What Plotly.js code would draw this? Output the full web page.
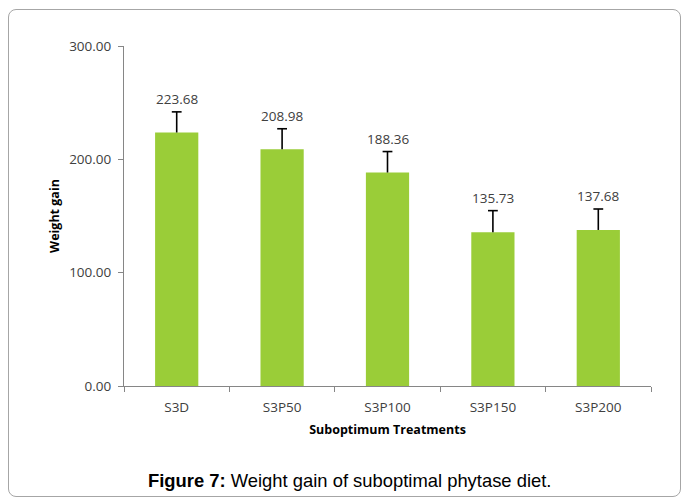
<!DOCTYPE html>
<html>
<head>
<meta charset="utf-8">
<script src="https://cdn.plot.ly/plotly-3.0.1.min.js"></script>
<style>
  html, body { margin: 0; padding: 0; background: #fff; }
  #wrap { position: relative; width: 683px; height: 498px; }
  #chart { position: absolute; left: 0; top: 0; width: 683px; height: 498px; }
  #frame { position: absolute; left: 8px; top: 9px; width: 671px; height: 486px;
           border: 1px solid #a6a6a6; border-radius: 8px; pointer-events: none; }
</style>
</head>
<body>
<div id="wrap">
  <div id="chart"></div>
  <div id="frame"></div>
</div>
<script>
const categories = ["S3D", "S3P50", "S3P100", "S3P150", "S3P200"];
const weightGain = [223.68, 208.98, 188.36, 135.73, 137.68];
const errorPlus = [18.2, 18.0, 18.5, 19.0, 18.5];
const valueLabels = ["223.68", "208.98", "188.36", "135.73", "137.68"];
const yTickVals = [0, 100, 200, 300];
const yTickText = ["0.00", "100.00", "200.00", "300.00"];

const labelFont = { family: "Open Sans, Noto Sans, sans-serif", size: 13.5, color: "#404040" };
const errorTops = weightGain.map((v, i) => v + errorPlus[i]);

const barTrace = {
  type: "bar",
  x: categories,
  y: weightGain,
  marker: { color: "#9ACD38" },
  error_y: {
    type: "data",
    symmetric: false,
    array: errorPlus,
    arrayminus: weightGain.map(() => 0),
    color: "#000000",
    thickness: 1.6,
    width: 0
  },
  hoverinfo: "skip"
};

// caps on the upper end of the (plus-only) error bars
const capTrace = {
  type: "scatter",
  mode: "markers",
  x: categories,
  y: errorTops,
  marker: {
    symbol: "line-ew-open",
    size: 7,
    color: "#000000",
    line: { color: "#000000", width: 1.6 }
  },
  hoverinfo: "skip"
};

const annotations = categories.map((c, i) => ({
  x: c,
  y: errorTops[i],
  xref: "x",
  yref: "y",
  text: valueLabels[i],
  showarrow: false,
  yanchor: "bottom",
  yshift: 2,
  font: labelFont
}));

annotations.push({
  xref: "paper", yref: "paper",
  x: 0.428, y: -0.2765,
  xanchor: "center", yanchor: "middle",
  text: "<b>Figure 7:</b> Weight gain of suboptimal phytase diet.",
  showarrow: false,
  font: { family: "Liberation Sans, Arial, sans-serif", size: 18.4, color: "#000000" }
});

const layout = {
  width: 683,
  height: 498,
  margin: { l: 124, r: 32, t: 46, b: 112 },
  paper_bgcolor: "#ffffff",
  plot_bgcolor: "#ffffff",
  showlegend: false,
  bargap: 0.59,
  xaxis: {
    type: "category",
    showline: true,
    linecolor: "#868686",
    linewidth: 1,
    ticks: "outside",
    tickson: "boundaries",
    ticklen: 5,
    tickcolor: "#868686",
    ticklabelstandoff: 9,
    showgrid: false,
    zeroline: false,
    tickfont: labelFont,
    title: {
      text: "<b>Suboptimum Treatments</b>",
      font: { family: "Open Sans, Noto Sans, sans-serif", size: 12.5, color: "#000000" },
      standoff: 10
    }
  },
  yaxis: {
    range: [0, 300],
    showline: true,
    linecolor: "#868686",
    linewidth: 1,
    ticks: "outside",
    ticklen: 5,
    tickcolor: "#868686",
    ticklabelstandoff: 4,
    tickmode: "array",
    tickvals: yTickVals,
    ticktext: yTickText,
    showgrid: false,
    zeroline: false,
    tickfont: labelFont,
    title: {
      text: "<b>Weight gain</b>",
      font: { family: "Open Sans, Noto Sans, sans-serif", size: 12.5, color: "#000000" },
      standoff: 6
    }
  },
  annotations: annotations
};

Plotly.newPlot("chart", [barTrace, capTrace], layout, { staticPlot: true, displayModeBar: false });
</script>
</body>
</html>
